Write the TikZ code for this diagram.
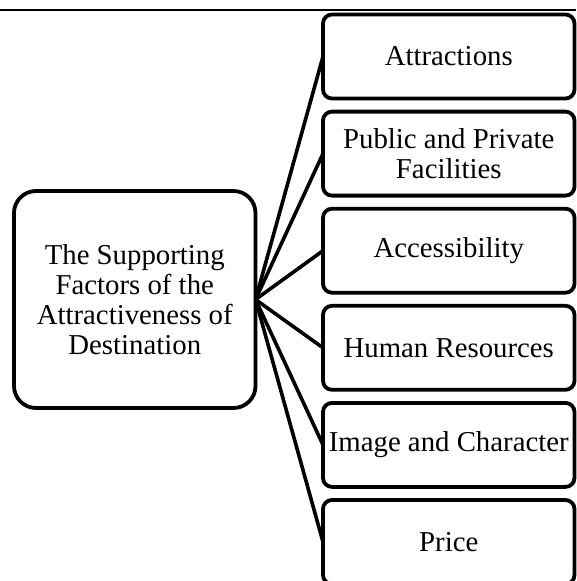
\documentclass[tikz,border=0pt]{standalone}
\usepackage{fontspec}
\setmainfont{Liberation Serif}
\usetikzlibrary{positioning}

\begin{document}
\begin{tikzpicture}[x=1pt,y=-1pt]
          \tikzstyle{hub} = [draw, line width=3.8pt, rounded corners=22pt, minimum width=241.5pt, minimum height=217pt, align=center, outer sep=0pt, font=\fontsize{28.8}{30}\selectfont]
          \tikzstyle{factor} = [draw, line width=3.8pt, rounded corners=9pt, minimum width=251.5pt, minimum height=84pt, inner sep=2pt, align=center, outer sep=0pt, node distance=13.1pt, font=\fontsize{28.8}{30}\selectfont]
        \useasboundingbox (0,0) rectangle (576,581);
        \draw[line width=2.2pt] (0,9.8) -- (576,9.8);
        \node[hub] (0) at (134.75,299.5) {The Supporting\\Factors of the\\Attractiveness of\\Destination};
        \node[factor] (1) at (448.75,56.5) {Attractions};
        \node[factor] (2) [below=of 1] {Public and Private\\Facilities};
        \node[factor] (3) [below=of 2] {Accessibility};
        \node[factor] (4) [below=of 3] {Human Resources};
        \node[factor] (5) [below=of 4] {Image and Character};
        \node[factor] (6) [below=of 5] {Price};
        \begin{scope}[line width=3.6pt]
          \draw (0.east) -- (1.west);
          \draw (0.east) -- (2.west);
          \draw (0.east) -- (3.west);
          \draw (0.east) -- (4.west);
          \draw (0.east) -- (5.west);
          \draw (0.east) -- (6.west);
        \end{scope}
      \end{tikzpicture}
\end{document}
